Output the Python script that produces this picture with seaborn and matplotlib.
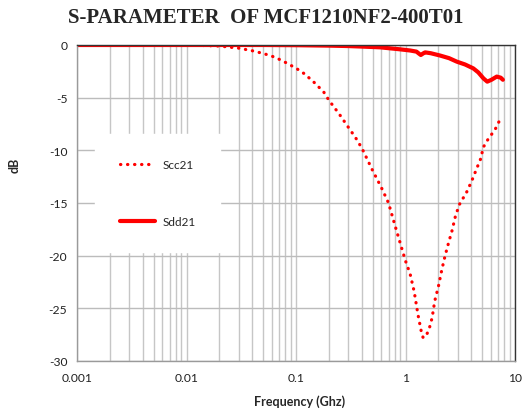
import numpy as np
import pandas as pd
import matplotlib
matplotlib.use("Agg")
import matplotlib.pyplot as plt
import seaborn as sns
from matplotlib.ticker import LogLocator, FixedLocator, NullFormatter

# values (frequency in GHz, level in dB)
scc21_freq = [0.001, 0.003, 0.006, 0.01, 0.015, 0.02, 0.03, 0.04, 0.05, 0.06, 0.07, 0.08,
              0.1, 0.12, 0.15, 0.18, 0.2, 0.25, 0.3, 0.35, 0.4, 0.5, 0.6, 0.7, 0.8, 0.9,
              1.0, 1.1, 1.2, 1.3, 1.4, 1.45, 1.5, 1.56, 1.65, 1.75, 1.85, 2.0, 2.15, 2.3,
              2.5, 2.65, 2.85, 3.0, 3.15, 3.57, 4.03, 4.4, 4.86, 5.14, 5.71, 6.56, 7.4]
scc21_db = [0.0, 0.0, 0.0, -0.02, -0.05, -0.1, -0.3, -0.55, -0.8, -1.05, -1.35, -1.65,
            -2.2, -2.75, -3.65, -4.5, -5.25, -6.6, -7.8, -8.8, -9.8, -11.9, -13.5, -15.0, -17.1, -18.9,
            -20.5, -21.7, -23.4, -25.6, -27.3, -27.8, -27.7, -27.5, -26.9, -25.9, -24.3, -22.9, -21.3, -20.0,
            -18.6, -17.7, -16.3, -15.6, -15.0, -14.1, -12.9, -11.9, -10.8, -9.7, -8.9, -8.05, -6.95]

sdd21_freq = [0.001, 0.01, 0.05, 0.1, 0.2, 0.3, 0.4, 0.585, 0.89, 1.1, 1.26, 1.32, 1.38, 1.45,
              1.51, 1.7, 2.07, 2.5, 2.94, 3.5, 4.16, 4.62, 5.15, 5.58, 6.1, 6.81, 7.4, 7.75]
sdd21_db = [0.0, 0.0, 0.0, -0.02, -0.06, -0.1, -0.15, -0.22, -0.41, -0.52, -0.63, -0.8, -0.95, -0.8,
            -0.7, -0.78, -1.0, -1.25, -1.58, -1.85, -2.22, -2.6, -3.17, -3.48, -3.3, -3.0, -3.1, -3.3]

series_names = ["Scc21", "Sdd21"]
title_text = "S-PARAMETER  OF MCF1210NF2-400T01"
x_ticks = [0.001, 0.01, 0.1, 1, 10]
x_tick_labels = ["0.001", "0.01", "0.1", "1", "10"]
y_ticks = [0, -5, -10, -15, -20, -25, -30]

df = pd.concat([
    pd.DataFrame({"freq": scc21_freq, "db": scc21_db, "trace": series_names[0]}),
    pd.DataFrame({"freq": sdd21_freq, "db": sdd21_db, "trace": series_names[1]}),
])

sns.set_style("white")
plt.rcParams["font.family"] = ["Lato", "DejaVu Sans"]

fig = plt.figure(figsize=(5.26, 4.14), dpi=100)
ax = fig.add_axes([77 / 526, 1 - 362 / 414, 438 / 526, 316 / 414])

dots = (0.1, 2.1)
sns.lineplot(data=df, x="freq", y="db", hue="trace", style="trace",
             palette={"Scc21": "#ff0000", "Sdd21": "#ff0000"},
             dashes={"Scc21": dots, "Sdd21": ""},
             sort=False, estimator=None, ax=ax, legend=False)
lines = ax.get_lines()
lines[0].set_linewidth(2.3)
lines[0].set_dash_capstyle("round")
lines[1].set_linewidth(3.0)
lines[1].set_solid_capstyle("round")

ax.set_xscale("log")
ax.set_xlim(0.001, 10)
ax.set_ylim(-30, 0)
ax.xaxis.set_major_locator(FixedLocator(x_ticks))
ax.set_xticklabels(x_tick_labels)
ax.xaxis.set_minor_locator(LogLocator(base=10, subs=np.arange(2, 10)))
ax.xaxis.set_minor_formatter(NullFormatter())
ax.set_yticks(y_ticks)
ax.set_yticklabels([str(v) for v in y_ticks])

ax.grid(True, which="both", axis="x", color="#c6c6c6", lw=1)
ax.grid(True, which="major", axis="y", color="#bcbcbc", lw=1)
ax.set_axisbelow(True)

ax.tick_params(axis="both", which="major", labelsize=8.7, colors="#222222",
               length=4, width=1, direction="out", pad=4)
ax.tick_params(axis="x", which="major", color="#999999")
ax.tick_params(axis="y", which="major", color="#999999", pad=3)
ax.tick_params(axis="x", which="minor", length=0)

for side in ["left", "bottom"]:
    ax.spines[side].set_color("#9a9a9a")
    ax.spines[side].set_linewidth(1)
for side in ["top", "right"]:
    ax.spines[side].set_color("#333333")
    ax.spines[side].set_linewidth(1)

ax.set_xlabel("")
ax.set_ylabel("")

handles = [plt.Line2D([], [], color="#ff0000", lw=2.3, ls=(0, dots), dash_capstyle="round"),
           plt.Line2D([], [], color="#ff0000", lw=3.0)]
leg = ax.legend(handles, series_names, loc="upper left", bbox_to_anchor=(0.041, 0.718),
                borderaxespad=0, frameon=True, fontsize=8.5, labelspacing=3.9,
                borderpad=2.1, handlelength=3.0, handletextpad=0.6, fancybox=False)
leg.get_frame().set_facecolor("white")
leg.get_frame().set_edgecolor("white")
leg.get_frame().set_alpha(1)

fig.text(266 / 526, 1 - 18 / 414, title_text, ha="center", va="center",
         fontsize=15, fontweight="bold", family="Liberation Serif")
fig.text(300 / 526, 1 - 402 / 414, "Frequency (Ghz)", ha="center", va="center",
         fontsize=9, fontweight="bold")
fig.text(15 / 526, 1 - 165 / 414, "dB", ha="center", va="center", rotation=90,
         fontsize=9, fontweight="bold")

fig.savefig("out.png", dpi=100)
